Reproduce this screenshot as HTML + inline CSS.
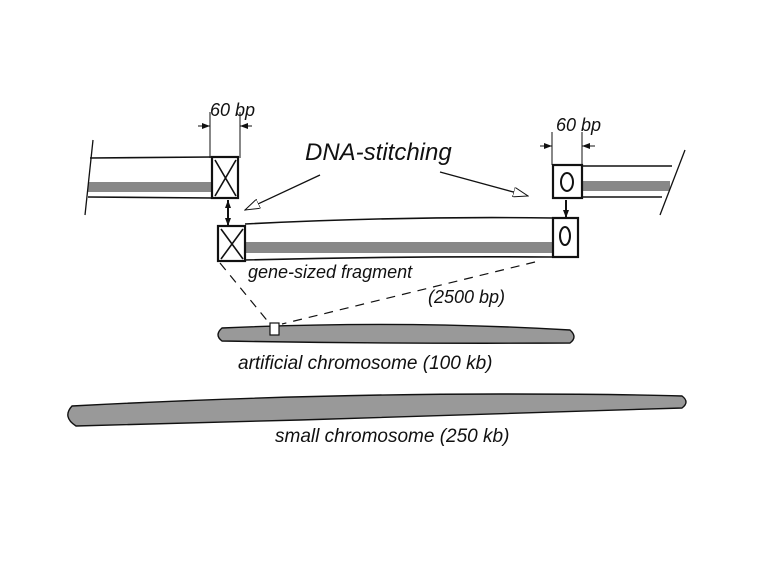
<!DOCTYPE html>
<html><head><meta charset="utf-8"><style>
html,body{margin:0;padding:0;background:#fff}
svg{display:block}
text{font-family:"Liberation Sans",sans-serif;font-style:italic;fill:#111;stroke:none}
</style></head><body>
<svg width="768" height="576" viewBox="0 0 768 576" xmlns="http://www.w3.org/2000/svg">
<defs>
<marker id="a" markerUnits="userSpaceOnUse" markerWidth="8" markerHeight="6" refX="8" refY="3" orient="auto"><path d="M0,0 L8,3 L0,6 z" fill="#111"/></marker>
<marker id="b" markerUnits="userSpaceOnUse" markerWidth="8" markerHeight="6" refX="0" refY="3" orient="auto"><path d="M8,0 L0,3 L8,6 z" fill="#111"/></marker>
<marker id="o" markerUnits="userSpaceOnUse" markerWidth="16" markerHeight="10" refX="15" refY="5" orient="auto"><path d="M0,0 L15,5 L0,10 z" fill="#fff" stroke="#111" stroke-width="1"/></marker>
</defs>
<g stroke="#111" fill="none" stroke-width="1.6">
<!-- left fragment -->
<rect x="88" y="182" width="124" height="10" fill="#888" stroke="none"/>
<path d="M90,158 L212,157 M88,197 L212,198"/>
<path d="M93,140 L85,215" stroke-width="1.3"/>
<rect x="212" y="157" width="26" height="41" stroke-width="2.2"/>
<path d="M215,160 L236,196 M236,160 L215,196"/>
<path d="M210,112 L210,158 M240,112 L240,158" stroke-width="1"/>
<path d="M198,126 L210,126" stroke-width="1" marker-end="url(#a)"/>
<path d="M252,126 L240,126" stroke-width="1" marker-end="url(#a)"/>
<text x="210" y="116" font-size="18">60 bp</text>
<!-- right fragment -->
<rect x="582" y="181" width="88" height="10" fill="#888" stroke="none"/>
<path d="M582,166 L672,166 M582,197 L662,197"/>
<path d="M685,150 L660,215" stroke-width="1.3"/>
<rect x="553" y="165" width="29" height="33" stroke-width="2.2"/>
<ellipse cx="567" cy="182" rx="6" ry="9" stroke-width="2"/>
<path d="M552,132 L552,165 M582,132 L582,165" stroke-width="1"/>
<path d="M540,146 L552,146" stroke-width="1" marker-end="url(#a)"/>
<path d="M595,146 L582,146" stroke-width="1" marker-end="url(#a)"/>
<text x="556" y="131" font-size="18">60 bp</text>
<!-- DNA stitching -->
<text x="305" y="160" font-size="24">DNA-stitching</text>
<path d="M320,175 L245,210" stroke-width="1.3" marker-end="url(#o)"/>
<path d="M440,172 L528,196" stroke-width="1.3" marker-end="url(#o)"/>
<!-- vertical double arrows -->
<path d="M228,200 L228,226" stroke-width="2" marker-start="url(#b)" marker-end="url(#a)"/>
<path d="M566,200 L566,218" stroke-width="2" marker-end="url(#a)"/>
<!-- middle fragment -->
<rect x="245" y="242" width="308" height="11" fill="#888" stroke="none"/>
<path d="M245,224 Q400,216 553,218 M245,260 Q400,256 553,257"/>
<rect x="218" y="226" width="27" height="35" stroke-width="2.2"/>
<path d="M221,229 L243,259 M243,229 L221,259"/>
<rect x="553" y="218" width="25" height="39" stroke-width="2.2"/>
<ellipse cx="565" cy="236" rx="5" ry="9" stroke-width="2"/>
<text x="248" y="278" font-size="18">gene-sized fragment</text>
<text x="428" y="303" font-size="18">(2500 bp)</text>
<path d="M220,263 L270,324 M535,262 L282,324" stroke-dasharray="9,7" stroke-width="1.2"/>
<!-- artificial chromosome -->
<path d="M222,328 Q400,320 570,330 Q578,337 570,343 Q400,344 222,341 Q214,335 222,328 z" fill="#999" stroke="#111" stroke-width="1.4"/>
<rect x="270" y="323" width="9" height="12" fill="#fff" stroke-width="1.2"/>
<text x="238" y="369" font-size="19">artificial chromosome (100 kb)</text>
<!-- small chromosome -->
<path d="M72,406 Q300,394 500,394 Q620,394 682,396 Q690,402 682,408 Q500,414 300,420 Q150,424 76,426 Q62,417 72,406 z" fill="#999" stroke="#111" stroke-width="1.4"/>
<text x="275" y="442" font-size="19">small chromosome (250 kb)</text>
</g>
</svg>
</body></html>
